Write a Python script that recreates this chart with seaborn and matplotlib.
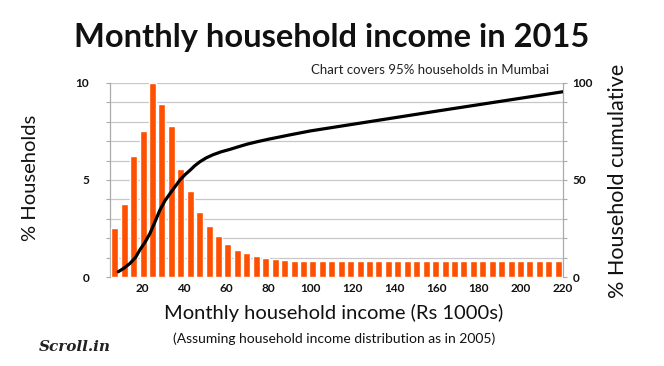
import numpy as np
import pandas as pd
import seaborn as sns
import matplotlib.pyplot as plt

sns.set_theme(style="white")
plt.rcParams["font.family"] = ["Lato", "DejaVu Sans"]

# share of households per income band (left axis, %)
bar_pct = [2.54, 3.76, 6.24, 7.53, 10.0, 8.9, 7.78, 5.57, 4.45, 3.33,
           2.63, 2.11, 1.70, 1.39, 1.22, 1.08, 0.96, 0.91, 0.88, 0.85,
           0.82, 0.80, 0.80, 0.80, 0.80, 0.80, 0.80, 0.80, 0.80, 0.80,
           0.80, 0.80, 0.80, 0.80, 0.80, 0.80, 0.80, 0.80, 0.80, 0.80,
           0.80, 0.80, 0.80, 0.80, 0.80, 0.80, 0.80, 0.80]
bands = [str(i) for i in range(len(bar_pct))]

# cumulative share of households (right axis, %)
cum_income = [8.7, 11.5, 14.3, 17, 19, 21.5, 23.8, 26, 28.5, 31, 33.3,
              36, 38, 40.5, 42.8, 45, 47.5, 50.5, 53.7, 57.5, 61.8, 66,
              70, 75, 80, 90, 100, 160, 220]
cum_pct = [2.7, 4.6, 7, 10.2, 14, 18, 22.5, 28, 34.5, 39.5, 43,
           47, 50, 52.8, 55, 57.3, 59.4, 61.4, 63, 64.5, 65.8, 67.2,
           68.5, 69.8, 71, 73.2, 75.3, 85.5, 95.5]

x_ticks = [20, 40, 60, 80, 100, 120, 140, 160, 180, 200, 220]

bar_color = "#ff5000"
grid_color = "#c8c8c8"
text_color = "#111111"

fig = plt.figure(figsize=(6.64, 3.66), dpi=100)
pos = [110 / 664, 89 / 366, 453 / 664, 194 / 366]

# bars on a category axis
ax = fig.add_axes(pos)
bars = pd.DataFrame({"band": bands, "pct": bar_pct})
sns.barplot(data=bars, x="band", y="pct", color=bar_color, saturation=1,
            width=0.74, ax=ax, zorder=3)
ax.set_xlim(-0.5, len(bar_pct) - 0.5)
ax.set_ylim(0, 10)
ax.set_yticks(range(0, 11))
ax.set_yticklabels(["0", "", "", "", "", "5", "", "", "", "", "10"])
ax.grid(axis="y", color=grid_color, linewidth=0.9, zorder=0)
ax.set_xticks([])
ax.set_xlabel("")
ax.set_ylabel("")
ax.tick_params(axis="y", left=True, length=3, width=0.8, color="#aaaaaa",
               pad=12, labelsize=8.5, labelcolor=text_color)
for lab in ax.get_yticklabels():
    lab.set_fontweight("bold")
for side in ["top", "bottom", "right"]:
    ax.spines[side].set_visible(False)
ax.spines["left"].set_color("#aaaaaa")
ax.spines["left"].set_linewidth(0.9)

# cumulative line on a numeric overlay
ax2 = fig.add_axes(pos, facecolor="none")
line = pd.DataFrame({"income": cum_income, "cum": cum_pct})
sns.lineplot(data=line, x="income", y="cum", color="black", linewidth=2.3,
             ax=ax2, zorder=4)
ax2.set_xlim(4.8, 220)
ax2.set_ylim(0, 100)
ax2.set_xticks(x_ticks)
ax2.set_yticks(range(0, 101, 10))
ax2.set_yticklabels(["0", "", "", "", "", "50", "", "", "", "", "100"])
ax2.yaxis.tick_right()
ax2.set_xlabel("")
ax2.set_ylabel("")
ax2.tick_params(axis="x", bottom=False, length=0, pad=4, labelsize=8.5,
                labelcolor=text_color)
ax2.tick_params(axis="y", right=True, length=3, width=0.8, color="#aaaaaa",
                pad=4, labelsize=8.5, labelcolor=text_color)
for lab in ax2.get_xticklabels() + ax2.get_yticklabels():
    lab.set_fontweight("bold")
for side in ["top", "bottom", "left"]:
    ax2.spines[side].set_visible(False)
ax2.spines["right"].set_color("#aaaaaa")
ax2.spines["right"].set_linewidth(0.9)

fig.text(332 / 664, 1 - 38 / 366, "Monthly household income in 2015",
         ha="center", va="center", fontsize=23.5, fontweight="bold",
         color=text_color)
fig.text(430 / 664, 1 - 70 / 366, "Chart covers 95% households in Mumbai",
         ha="center", va="center", fontsize=9.5, color="#222222")
fig.text(334 / 664, 1 - 313 / 366, "Monthly household income (Rs 1000s)",
         ha="center", va="center", fontsize=14.5, color=text_color)
fig.text(334 / 664, 1 - 339 / 366,
         "(Assuming household income distribution as in 2005)",
         ha="center", va="center", fontsize=10, color=text_color)
fig.text(30 / 664, 1 - 178 / 366, "% Households", rotation=90,
         ha="center", va="center", fontsize=14.5, color=text_color)
fig.text(618 / 664, 1 - 181 / 366, "% Household cumulative", rotation=90,
         ha="center", va="center", fontsize=15.5, color=text_color)
fig.text(75 / 664, 1 - 347 / 366, "Scroll.in", ha="center", va="center",
         fontsize=11, fontweight="bold", style="italic",
         family=["DejaVu Serif"], color="#222222")

fig.savefig("out.png", dpi=100)
